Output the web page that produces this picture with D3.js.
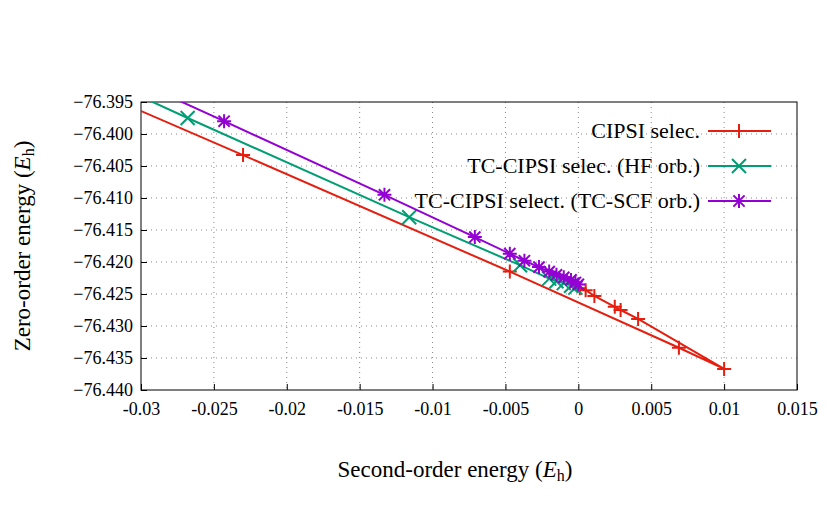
<!DOCTYPE html>
<html><head><meta charset="utf-8">
<script src="https://cdn.jsdelivr.net/npm/d3@7"></script>
<style>body{margin:0;background:#fff}text{font-family:"Liberation Serif","DejaVu Serif",serif}</style>
</head><body>
<svg width="830" height="519"></svg>
<script>
var xTicks = [-0.03, -0.025, -0.02, -0.015, -0.01, -0.005, 0, 0.005, 0.01, 0.015];
var yTicks = [-76.395, -76.400, -76.405, -76.410, -76.415, -76.420, -76.425, -76.430, -76.435, -76.440];

var cipsiX = [-0.036, -0.0230, -0.0047, 0.0069, 0.0100, 0.0041, 0.0029, 0.0025, 0.0011, 0.0005, 0.0001];
var cipsiY = [-76.3905, -76.4033, -76.4215, -76.4334, -76.4367, -76.4289, -76.4275, -76.4270, -76.4253, -76.4244, -76.4241];

var tcHfX = [-0.034, -0.0268, -0.0116, -0.0040, -0.0020, -0.0015, -0.0010, -0.0005, -0.0002];
var tcHfY = [-76.3900, -76.3975, -76.4130, -76.4205, -76.4226, -76.4230, -76.4233, -76.4237, -76.4240];

var tcScfX = [-0.032, -0.0243, -0.0133, -0.0071, -0.0047, -0.0037, -0.0027, -0.0020, -0.0015, -0.0010, -0.0005, -0.0002, 0.0000];
var tcScfY = [-76.3900, -76.3980, -76.4095, -76.4161, -76.4187, -76.4198, -76.4208, -76.4215, -76.4220, -76.4224, -76.4228, -76.4232, -76.4235];

var series = [
  {name: "CIPSI selec.", xs: cipsiX, ys: cipsiY, color: "#e51e10", mark: "plus"},
  {name: "TC-CIPSI selec. (HF orb.)", xs: tcHfX, ys: tcHfY, color: "#009e73", mark: "cross"},
  {name: "TC-CIPSI select. (TC-SCF orb.)", xs: tcScfX, ys: tcScfY, color: "#9400d3", mark: "star"}
];

var svg = d3.select("svg");
var L = 141, R = 797, T = 102, B = 390;
var x = d3.scaleLinear().domain([-0.03, 0.015]).range([L, R]);
var y = d3.scaleLinear().domain([-76.395, -76.440]).range([T, B]);

svg.append("defs").append("clipPath").attr("id", "c")
  .append("rect").attr("x", L).attr("y", T).attr("width", R - L).attr("height", B - T);

// grid
var g = svg.append("g");
g.selectAll(".gx").data(xTicks.slice(1, -1)).enter().append("line")
  .attr("x1", d => x(d)).attr("x2", d => x(d)).attr("y1", T).attr("y2", B)
  .attr("stroke", "#888").attr("stroke-width", 1).attr("stroke-dasharray", "1,4");
g.selectAll(".gy").data(yTicks.slice(1, -1)).enter().append("line")
  .attr("y1", d => y(d)).attr("y2", d => y(d)).attr("x1", L).attr("x2", R)
  .attr("stroke", "#888").attr("stroke-width", 1).attr("stroke-dasharray", "1,4");

var xAxis = svg.append("g").attr("transform", "translate(0," + B + ")")
  .call(d3.axisBottom(x).tickValues(xTicks).tickSize(-6).tickPadding(12).tickFormat(d => d === 0 ? "0" : String(+d.toFixed(3))));
var yAxis = svg.append("g").attr("transform", "translate(" + L + ",0)")
  .call(d3.axisLeft(y).tickValues(yTicks).tickSize(-6).tickPadding(8).tickFormat(d3.format(".3f")));
[xAxis, yAxis].forEach(function(a) {
  a.attr("font-family", "Liberation Serif, serif").attr("font-size", 18);
  a.select(".domain").remove();
  a.selectAll("text").attr("fill", "#000");
  a.selectAll("line").attr("stroke", "#000");
});
svg.append("rect").attr("x", L).attr("y", T).attr("width", R - L).attr("height", B - T)
  .attr("fill", "none").attr("stroke", "#000").attr("stroke-width", 1);

function marker(sel, type, s) {
  var p;
  if (type === "plus") p = `M${-s},0H${s}M0,${-s}V${s}`;
  else if (type === "cross") p = `M${-s},${-s}L${s},${s}M${-s},${s}L${s},${-s}`;
  else p = `M${-s},0H${s}M0,${-s}V${s}M${-s*0.8},${-s*0.8}L${s*0.8},${s*0.8}M${-s*0.8},${s*0.8}L${s*0.8},${-s*0.8}`;
  sel.append("path").attr("d", p);
}

var plot = svg.append("g").attr("clip-path", "url(#c)");
series.forEach(function(s) {
  var pts = s.xs.map((v, i) => [v, s.ys[i]]);
  plot.append("path").datum(pts)
    .attr("d", d3.line().x(d => x(d[0])).y(d => y(d[1])))
    .attr("fill", "none").attr("stroke", s.color).attr("stroke-width", 2);
  plot.selectAll(null).data(pts).enter().append("g")
    .attr("transform", d => "translate(" + x(d[0]) + "," + y(d[1]) + ")")
    .attr("stroke", s.color).attr("stroke-width", 2)
    .each(function() { marker(d3.select(this), s.mark, 7); });
});

// legend
var legY = [131, 166, 201];
series.forEach(function(s, i) {
  var lg = svg.append("g");
  lg.append("text").attr("x", 700).attr("y", legY[i] + 7).attr("text-anchor", "end")
    .attr("font-size", 22).text(s.name);
  lg.append("line").attr("x1", 708).attr("x2", 771).attr("y1", legY[i]).attr("y2", legY[i])
    .attr("stroke", s.color).attr("stroke-width", 2);
  var m = lg.append("g").attr("transform", "translate(739," + legY[i] + ")")
    .attr("stroke", s.color).attr("stroke-width", 2);
  marker(m, s.mark, 7);
});

// axis titles
var xt = svg.append("text").attr("x", 455).attr("y", 477).attr("text-anchor", "middle").attr("font-size", 23);
xt.append("tspan").text("Second-order energy (");
xt.append("tspan").attr("font-style", "italic").text("E");
xt.append("tspan").attr("font-size", 16).attr("dy", 4).text("h");
xt.append("tspan").attr("dy", -4).text(")");
var yt = svg.append("text").attr("transform", "translate(30,246) rotate(-90)").attr("text-anchor", "middle").attr("font-size", 23);
yt.append("tspan").text("Zero-order energy (");
yt.append("tspan").attr("font-style", "italic").text("E");
yt.append("tspan").attr("font-size", 16).attr("dy", 4).text("h");
yt.append("tspan").attr("dy", -4).text(")");
</script>
</body></html>
